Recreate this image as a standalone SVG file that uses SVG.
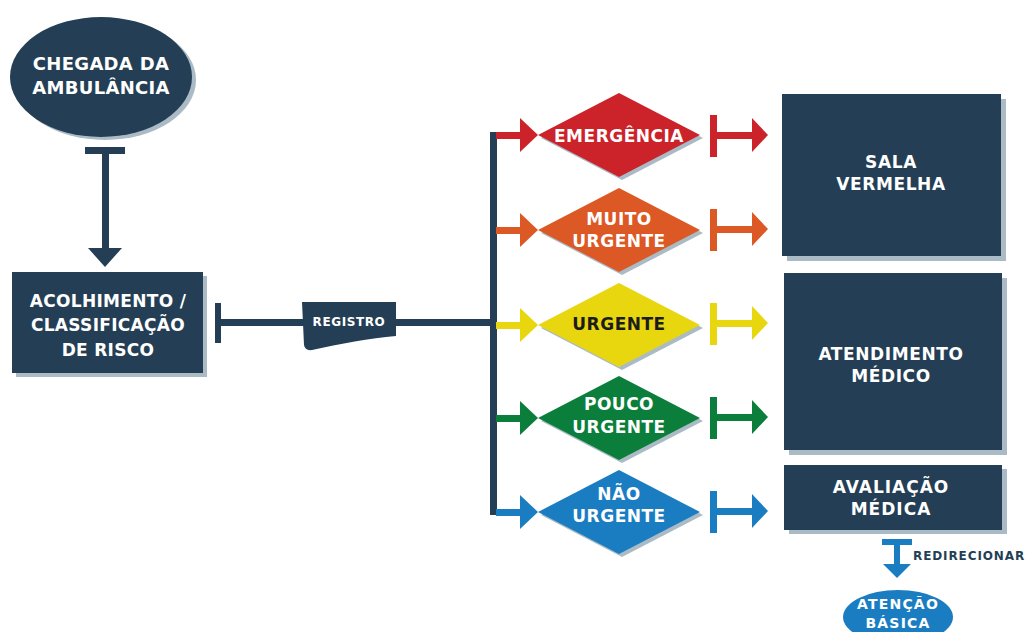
<svg xmlns="http://www.w3.org/2000/svg" width="1027" height="632" viewBox="0 0 1027 632">
<defs>
<style>
.navy{fill:#243F55}
.sh{fill:#AABBC5}
.t{font-family:"DejaVu Sans","Liberation Sans",sans-serif;font-weight:bold;font-size:17px;letter-spacing:0.5px;fill:#fff;text-anchor:middle}
.red{fill:#CC2229}.org{fill:#DC5824}.yel{fill:#E8D60F}.grn{fill:#0B7E3B}.blu{fill:#1B7DC1}
</style>
</defs>
<rect width="1027" height="632" fill="#fff"/>

<g id="connectors">
  <rect class="navy" x="85" y="147" width="40" height="7"/>
  <rect class="navy" x="102" y="150" width="7" height="100"/>
  <polygon class="navy" points="88,248 122,248 105,267"/>
  <rect class="navy" x="215" y="303" width="6" height="40"/>
  <rect class="navy" x="218" y="319" width="276" height="7"/>
  <rect class="navy" x="490" y="132" width="7" height="383"/>
  <g class="red"><rect x="496" y="132" width="26" height="7"/><polygon points="520,118 520,152 538,135"/></g>
  <g class="org"><rect x="496" y="227" width="26" height="7"/><polygon points="520,213 520,247 538,230"/></g>
  <g class="yel"><rect x="496" y="322" width="26" height="7"/><polygon points="520,308 520,342 538,325"/></g>
  <g class="grn"><rect x="496" y="415" width="26" height="7"/><polygon points="520,401 520,435 538,418"/></g>
  <g class="blu"><rect x="496" y="509" width="26" height="7"/><polygon points="520,495 520,529 538,512"/></g>
  <g class="red"><rect x="710" y="115" width="7" height="42"/><rect x="714" y="132" width="40" height="7"/><polygon points="752,118 752,152 768,135"/></g>
  <g class="org"><rect x="710" y="209" width="7" height="42"/><rect x="714" y="226" width="40" height="7"/><polygon points="752,212 752,246 768,229"/></g>
  <g class="yel"><rect x="710" y="303" width="7" height="42"/><rect x="714" y="320" width="40" height="7"/><polygon points="752,306 752,340 768,323"/></g>
  <g class="grn"><rect x="710" y="397" width="7" height="42"/><rect x="714" y="414" width="40" height="7"/><polygon points="752,400 752,434 768,417"/></g>
  <g class="blu"><rect x="710" y="491" width="7" height="42"/><rect x="714" y="508" width="40" height="7"/><polygon points="752,494 752,528 768,511"/></g>
  <g class="blu"><rect x="882" y="539" width="30" height="6"/><rect x="894" y="542" width="6" height="24"/><polygon points="883,564 911,564 897,578"/></g>
  <text x="913" y="560" font-family="DejaVu Sans, Liberation Sans, sans-serif" font-weight="bold" font-size="12" letter-spacing="0.9" fill="#243F55">REDIRECIONAR</text>
</g>

<g id="chegada">
  <ellipse class="sh" cx="105" cy="80" rx="91" ry="60"/>
  <ellipse class="navy" cx="101" cy="77" rx="91" ry="60"/>
  <text class="t" x="101" y="69.5" style="font-size:18px;letter-spacing:0.3px">CHEGADA DA</text>
  <text class="t" x="101" y="93.5" style="font-size:18px;letter-spacing:0.3px">AMBULÂNCIA</text>
</g>

<g id="acolhimento">
  <rect class="sh" x="16" y="276" width="191" height="101"/>
  <rect class="navy" x="12" y="272" width="191" height="101"/>
  <text class="t" x="108" y="306.5" style="letter-spacing:0.3px">ACOLHIMENTO /</text>
  <text class="t" x="108" y="331" style="letter-spacing:0.3px">CLASSIFICAÇÃO</text>
  <text class="t" x="108" y="356" style="letter-spacing:0.3px">DE RISCO</text>
</g>

<g id="registro">
  <path class="navy" d="M302 302 H396 V336 C370 338 340 344 312 350 Q305 351 304 345 Z"/>
  <text class="t" x="349" y="326" style="font-size:12px;letter-spacing:0.6px">REGISTRO</text>
</g>

<g id="emergencia">
  <polygon class="sh" points="541,138 622,96 703,138 622,180"/>
  <polygon class="red" points="538,135 619,93 700,135 619,177"/>
  <text class="t" x="619" y="142">EMERGÊNCIA</text>
</g>
<g id="muito-urgente">
  <polygon class="sh" points="541,233 622,191 703,233 622,275"/>
  <polygon class="org" points="538,230 619,188 700,230 619,272"/>
  <text class="t" x="619" y="225">MUITO</text>
  <text class="t" x="619" y="247">URGENTE</text>
</g>
<g id="urgente">
  <polygon class="sh" points="541,328 622,286 703,328 622,370"/>
  <polygon class="yel" points="538,325 619,283 700,325 619,367"/>
  <text class="t" x="619" y="330" style="fill:#1c1c1c">URGENTE</text>
</g>
<g id="pouco-urgente">
  <polygon class="sh" points="541,421 622,379 703,421 622,463"/>
  <polygon class="grn" points="538,418 619,376 700,418 619,460"/>
  <text class="t" x="619" y="410">POUCO</text>
  <text class="t" x="619" y="433">URGENTE</text>
</g>
<g id="nao-urgente">
  <polygon class="sh" points="541,515 622,473 703,515 622,557"/>
  <polygon class="blu" points="538,512 619,470 700,512 619,554"/>
  <text class="t" x="619" y="500">NÃO</text>
  <text class="t" x="619" y="522">URGENTE</text>
</g>

<g id="sala-vermelha">
  <rect class="sh" x="787" y="99" width="219" height="162"/>
  <rect class="navy" x="782" y="94" width="219" height="162"/>
  <text class="t" x="891" y="168" style="letter-spacing:0.6px">SALA</text>
  <text class="t" x="891" y="190" style="letter-spacing:0.6px">VERMELHA</text>
</g>
<g id="atendimento-medico">
  <rect class="sh" x="789" y="278" width="218" height="177"/>
  <rect class="navy" x="784" y="273" width="218" height="177"/>
  <text class="t" x="891" y="360" style="letter-spacing:0.6px">ATENDIMENTO</text>
  <text class="t" x="891" y="382" style="letter-spacing:0.6px">MÉDICO</text>
</g>
<g id="avaliacao-medica">
  <rect class="sh" x="789" y="469" width="218" height="65"/>
  <rect class="navy" x="784" y="465" width="218" height="65"/>
  <text class="t" x="891" y="493" style="letter-spacing:1px">AVALIAÇÃO</text>
  <text class="t" x="891" y="515" style="letter-spacing:1px">MÉDICA</text>
</g>
<g id="atencao-basica">
  <ellipse class="blu" cx="898" cy="617" rx="55" ry="27"/>
  <text class="t" x="898" y="609" style="font-size:14px;letter-spacing:1.2px">ATENÇÃO</text>
  <text class="t" x="898" y="628" style="font-size:14px;letter-spacing:1.2px">BÁSICA</text>
</g>
</svg>
